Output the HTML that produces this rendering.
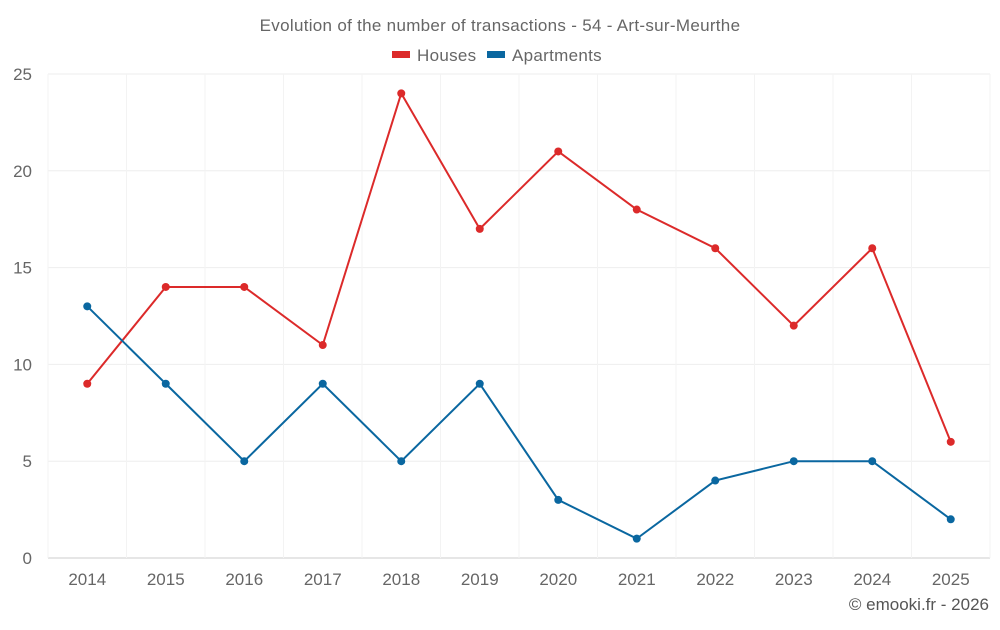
<!DOCTYPE html>
<html><head><meta charset="utf-8"><style>
body{margin:0;background:#fff;font-family:"Liberation Sans",sans-serif}
svg text{font-family:"Liberation Sans",sans-serif}
</style></head><body>
<svg id="c" width="1000" height="625">
<text x="500" y="31" text-anchor="middle" font-size="17" letter-spacing="0.3" fill="#666">Evolution of the number of transactions - 54 - Art-sur-Meurthe</text>
<g>
<g><rect x="392" y="51" width="18" height="7" fill="#dc2a2a"/><text x="417" y="61" font-size="17" letter-spacing="0.3" fill="#666">Houses</text></g>
<g><rect x="487" y="51" width="18" height="7" fill="#0a67a0"/><text x="512" y="61" font-size="17" letter-spacing="0.3" fill="#666">Apartments</text></g>
</g>
<g id="grid"></g><g id="axes"></g><g id="series"></g>
<text x="989" y="610" text-anchor="end" font-size="17" fill="#555">© emooki.fr - 2026</text>
</svg>
<script>
const categories=["2014","2015","2016","2017","2018","2019","2020","2021","2022","2023","2024","2025"];
const houses=[9,14,14,11,24,17,21,18,16,12,16,6];
const apartments=[13,9,5,9,5,9,3,1,4,5,5,2];
const yTicks=[0,5,10,15,20,25];
const NS="http://www.w3.org/2000/svg";
const L=48,R=990,T=74,B=558,yMax=25;
const bw=(R-L)/categories.length;
const xs=i=>L+bw*(i+0.5);
const ys=v=>B-(v/yMax)*(B-T);
function mk(t,a,p){const e=document.createElementNS(NS,t);for(const k in a)e.setAttribute(k,a[k]);p.appendChild(e);return e;}
const grid=document.getElementById('grid'),axes=document.getElementById('axes'),ser=document.getElementById('series');
yTicks.forEach(v=>{
 const l=mk('line',{x1:L,x2:R,y1:ys(v),y2:ys(v),stroke:v===0?'#ccc':'#eee'},grid);
 
 
 const t=mk('text',{x:L-16,y:ys(v)+6,'text-anchor':'end','font-size':17,fill:'#666'},axes);t.textContent=v;
 
 
});
for(let i=0;i<=categories.length;i++){
 const l=mk('line',{x1:L+bw*i,x2:L+bw*i,y1:T,y2:B,stroke:'#f3f3f3'},grid);
 
 
}
categories.forEach((c,i)=>{
 const t=mk('text',{x:xs(i),y:585,'text-anchor':'middle','font-size':17,fill:'#666'},axes);t.textContent=c;
 
 
});
function draw(data,color,name){
 const p=mk('polyline',{points:data.map((v,i)=>xs(i)+','+ys(v)).join(' '),fill:'none',stroke:color,'stroke-width':2},ser);
 
 
 data.forEach((v,i)=>{
  const c=mk('circle',{cx:xs(i),cy:ys(v),r:4,fill:color},ser);
  
  
 });
}
draw(houses,'#dc2a2a','houses');
draw(apartments,'#0a67a0','apartments');
</script>
</body></html>
